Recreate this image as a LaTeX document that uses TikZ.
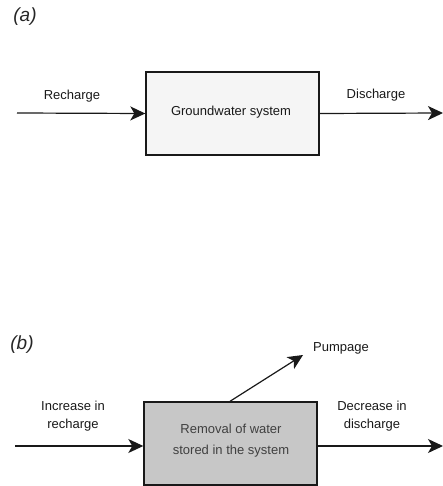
\documentclass[tikz,border=0pt]{standalone}
\usepackage{fontspec}
\setmainfont{Liberation Sans}
\usetikzlibrary{arrows.meta}
\begin{document}
\begin{tikzpicture}[x=1pt,y=-1pt,
  lbl/.style={font=\fontsize{13}{18}\selectfont, text=black!90, inner sep=0pt, align=center},
  panel/.style={font=\itshape\fontsize{19}{22}\selectfont, text=black!85, inner sep=0pt},
  sysbox/.style={draw=black!90, line width=1.4pt, inner sep=0pt},
  flow/.style={draw=black!90, line width=1.2pt, -{Stealth[length=15pt,width=14pt,inset=4pt]}}]
\useasboundingbox (0,0) rectangle (443,486);
% panel (a)
\node[panel] (pa) at (25,17) {(a)};
\node[sysbox, fill=black!4, minimum width=173pt, minimum height=83pt] (ga) at (232.5,113.5) {};
\node[lbl] (gat) at (231,112) {Groundwater system};
\coordinate (ina) at (17,113);
\coordinate (outa) at (443,113);
\node[lbl] (rech) at (72,96) {Recharge};
\node[lbl] (disch) at (376,95) {Discharge};
\draw[flow] (ina) -- (ga.west);
\draw[flow] (ga.east) -- (outa);
% panel (b)
\node[panel] (pb) at (22,345) {(b)};
\node[sysbox, fill=black!22, minimum width=173pt, minimum height=83pt] (gb) at (230.5,443.5) {};
\node[lbl, text=black!75, font=\fontsize{13}{21}\selectfont] (gbt) at (231,441) {Removal of water\\stored in the system};
\coordinate (inb) at (15,446);
\coordinate (outb) at (443,446);
\coordinate (pump) at (303,355);
\node[lbl] (incr) at (73,416) {Increase in\\recharge};
\node[lbl] (decr) at (372,416) {Decrease in\\discharge};
\node[lbl, anchor=west] (pumpl) at (313,348) {Pumpage};
\draw[flow] (inb) -- (inb -| gb.west);
\draw[flow] (outb -| gb.east) -- (outb);
\draw[flow] (gb.north -| 230,0) -- (pump);
\end{tikzpicture}
\end{document}
